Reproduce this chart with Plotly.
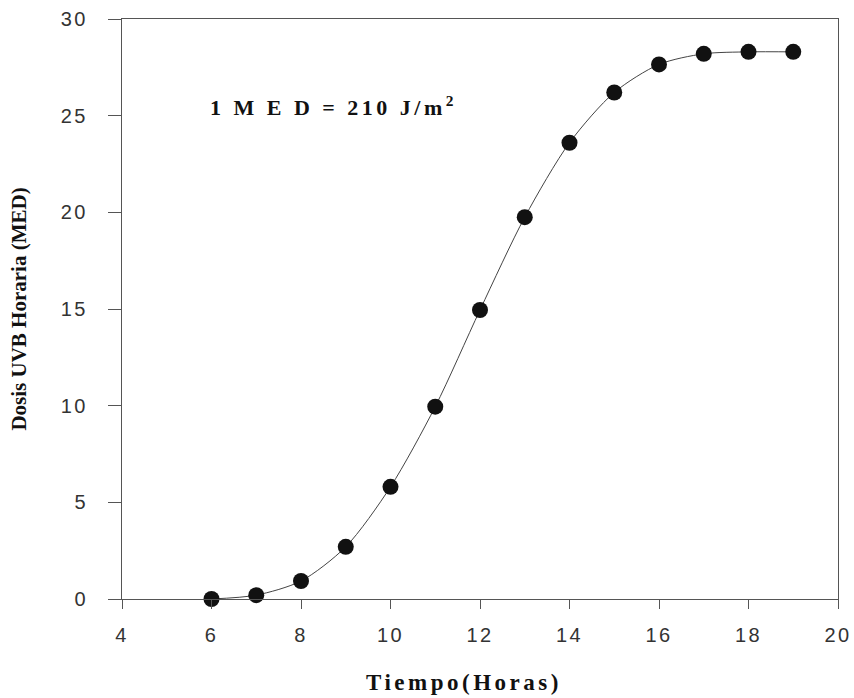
import plotly.graph_objects as go

hours = [6, 7, 8, 9, 10, 11, 12, 13, 14, 15, 16, 17, 18, 19]
dose_med = [0.0, 0.2, 0.93, 2.7, 5.8, 9.95, 14.95, 19.75, 23.6, 26.2, 27.65, 28.2, 28.3, 28.3]

x_ticks = [4, 6, 8, 10, 12, 14, 16, 18, 20]
y_ticks = [0, 5, 10, 15, 20, 25, 30]


def spaced(s, px):
    return '<span style="letter-spacing:%spx">%s</span>' % (px, s)


fig = go.Figure()
fig.add_trace(go.Scatter(
    x=hours, y=dose_med, mode="lines+markers",
    line=dict(color="#444444", width=1, shape="spline", smoothing=0.8),
    marker=dict(color="#111111", size=16, line=dict(width=0)),
    showlegend=False, cliponaxis=False,
))

fig.add_annotation(
    x=5.93, y=25.5, xref="x", yref="y", xanchor="left", yanchor="middle",
    text=spaced("1 M E D = 210 J/m<sup>2</sup>", 3.5), showarrow=False,
    font=dict(family="Liberation Serif", size=22, color="#111111", weight="bold"),
)

fig.add_annotation(
    x=464, y=682, xref="paper", yref="paper", showarrow=False,
    text=spaced("Tiempo(Horas)", 3.5),
    font=dict(family="Liberation Serif", size=23, color="#111111", weight="bold"),
)
# convert pixel position to paper coordinates
fig.layout.annotations[1].x = (464 - 122) / (838 - 122)
fig.layout.annotations[1].y = -(682 - 599) / (599 - 19)
fig.layout.annotations[1].xanchor = "center"
fig.layout.annotations[1].yanchor = "middle"

axis_font = dict(family="Liberation Sans", size=20, color="#333333")
fig.update_xaxes(
    range=[4, 20], tickvals=x_ticks, ticktext=[spaced(str(v), 2.5) for v in x_ticks],
    showgrid=False, zeroline=False, showline=True, linecolor="#555555", linewidth=1,
    mirror=True, ticks="outside", ticklen=9, tickcolor="#555555",
    tickfont=axis_font, ticklabelstandoff=9, automargin=False,
)
fig.update_yaxes(
    range=[0, 30], tickvals=y_ticks, ticktext=[spaced(str(v), 2.5) for v in y_ticks],
    showgrid=False, zeroline=False, showline=True, linecolor="#555555", linewidth=1,
    mirror=True, ticks="outside", ticklen=13, tickcolor="#555555",
    tickfont=axis_font, ticklabelstandoff=16, automargin=False,
    title=dict(text="Dosis UVB Horaria (MED)", standoff=28,
               font=dict(family="Liberation Serif", size=21, color="#111111", weight="bold")),
)
fig.update_layout(
    width=854, height=698,
    margin=dict(l=122, r=16, t=19, b=99),
    paper_bgcolor="white", plot_bgcolor="white",
)
fig.write_html("out.html")
